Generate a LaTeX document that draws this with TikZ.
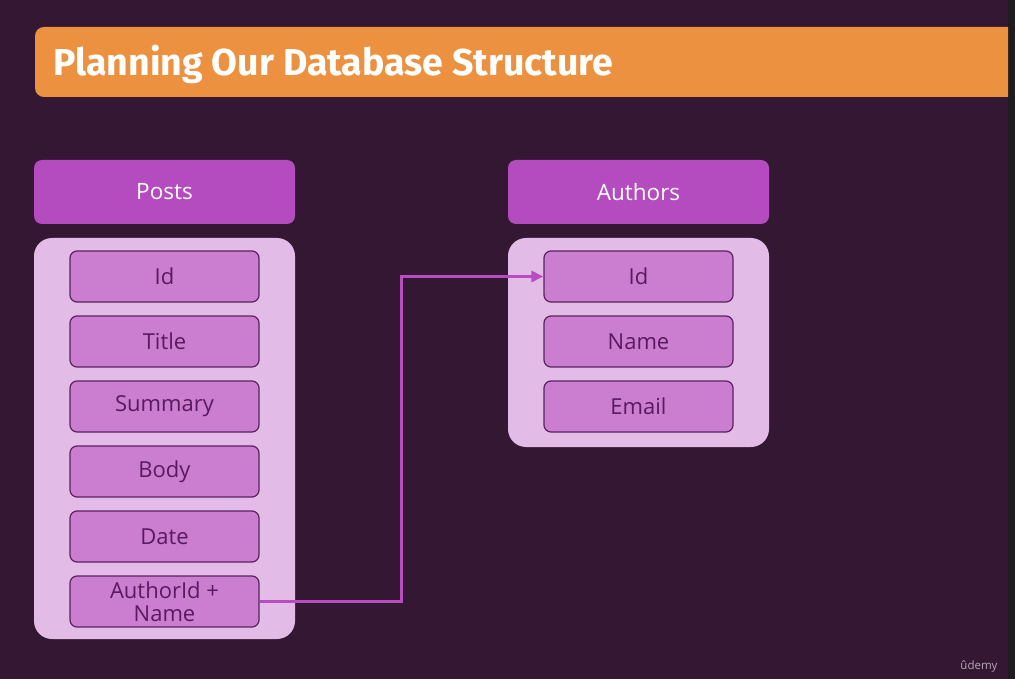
\documentclass[tikz,border=0pt]{standalone}
\usepackage{fontspec}
\setmainfont{Open Sans}
\newfontfamily\titlefont{Fira Sans}
\usetikzlibrary{arrows.meta}
\definecolor{bgc}{HTML}{331733}
\definecolor{edgec}{HTML}{1E1C1E}
\definecolor{orangec}{HTML}{EC913F}
\definecolor{headc}{HTML}{B44BBE}
\definecolor{bodyc}{HTML}{E2BCE6}
\definecolor{fieldc}{HTML}{CB7DD0}
\definecolor{fieldb}{HTML}{5B2160}
\definecolor{fieldt}{HTML}{5A1A5F}
\definecolor{arrowc}{HTML}{B84CC0}
\definecolor{logoc}{HTML}{B8A8B8}
\tikzset{
  tablehead/.style={fill=headc, rounded corners=8pt, minimum width=261pt, minimum height=64pt, inner sep=0pt, text=white, font=\fontsize{22.5}{24}\selectfont},
  tablebody/.style={fill=bodyc, rounded corners=18pt, inner sep=0pt},
  field/.style={fill=fieldc, draw=fieldb, line width=1.2pt, rounded corners=7pt, minimum width=189pt, minimum height=51pt, inner sep=0pt, text=fieldt, font=\fontsize{22}{26}\selectfont, align=center},
  link/.style={draw=arrowc, line width=3pt, -{Triangle[length=12pt,width=11pt]}}
}
\begin{document}
\begin{tikzpicture}[x=1pt,y=-1pt]
\useasboundingbox (0,0) rectangle (1015,679);
\fill[bgc] (0,0) rectangle (1015,679);
\fill[edgec] (1008,0) rectangle (1015,679);
% header
\fill[orangec, rounded corners=9pt] (1008,27) -- (35,27) -- (35,97) -- (1008,97);
\fill[orangec] (990,27) rectangle (1008,97);
\node[anchor=base west, text=white, font=\titlefont\bfseries\fontsize{37.5}{40}\selectfont, inner sep=0pt] (title) at (53,76) {Planning Our Database Structure};
% Posts
\node[tablehead] (postsh) at (164.5,192) {Posts};
\node[tablebody, minimum width=261pt, minimum height=401pt] (postsb) at (164.5,438.5) {};
\node[field] (pid) at (164.5,276.5) {Id};
\node[field] (ptitle) at (164.5,341.5) {Title};
\node[field] (psum) at (164.5,406.5) {Summary};
\node[field] (pbody) at (164.5,471.5) {Body};
\node[field] (pdate) at (164.5,536.5) {Date};
\node[field] (pauth) at (164.5,601.5) {AuthorId +\\[-3pt]Name};
% Authors
\node[tablehead] (authh) at (638.5,192) {Authors};
\node[tablebody, minimum width=261pt, minimum height=209pt] (authb) at (638.5,342.5) {};
\node[field] (aid) at (638.5,276.5) {Id};
\node[field] (aname) at (638.5,341.5) {Name};
\node[field] (aemail) at (638.5,406.5) {Email};
% connector
\draw[link] (pauth.east) -- ++(142,0) |- (aid.west);
% watermark
\node[anchor=base, text=logoc, font=\fontsize{11.5}{12}\selectfont, inner sep=0pt] (logo) at (979,669) {ûdemy};
\end{tikzpicture}
\end{document}
